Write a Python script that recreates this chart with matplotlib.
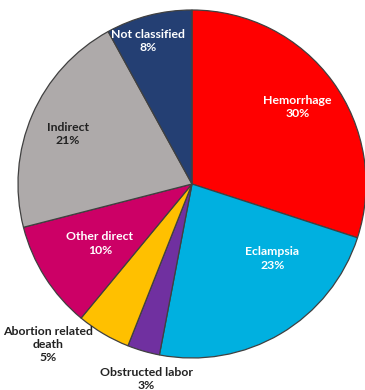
import matplotlib
matplotlib.use('Agg')
import matplotlib.pyplot as plt
import numpy as np

# donnees
categories = ['Hemorrhage', 'Eclampsia', 'Obstructed labor', 'Abortion related\ndeath',
              'Other direct', 'Indirect', 'Not classified']
values = [30, 23, 3, 5, 10, 21, 8]
colors = ['#FF0000', '#00B0E0', '#7030A0', '#FFC000', '#CC0066', '#AEAAAA', '#243F73']
text_colors = ['white', 'white', '#222222', '#222222', 'white', '#222222', 'white']

# placement des etiquettes : distance radiale et decalage d'angle
label_dist = [0.75, 0.63, 1.15, 1.24, 0.63, 0.77, 0.86]
angle_shift = [0, 16.6, 3, -11.4, 0.5, 1.5, 2.6]

plt.rcParams['font.family'] = ['Lato', 'DejaVu Sans']

fig = plt.figure(figsize=(3.65, 3.9), dpi=100)
ax = fig.add_axes([0, 0, 1, 1])

cx, cy, R = 192, 390 - 184, 174
wedges, _ = ax.pie(values, colors=colors, startangle=90, counterclock=False,
                   center=(cx, cy), radius=R, frame=True,
                   wedgeprops=dict(edgecolor='#404040', linewidth=0.9))
ax.set_xlim(0, 365)
ax.set_ylim(0, 390)
ax.set_aspect('equal')
ax.axis('off')

for w, cat, v, tc, d, sh in zip(wedges, categories, values, text_colors, label_dist, angle_shift):
    mid = np.deg2rad((w.theta1 + w.theta2) / 2 + sh)
    x = cx + d * R * np.cos(mid)
    y = cy + d * R * np.sin(mid)
    ax.text(x, y, f"{cat}\n{v}%", ha='center', va='center', color=tc,
            fontsize=8.8, fontweight='bold', linespacing=1.25)

fig.savefig('out.png', dpi=100)
